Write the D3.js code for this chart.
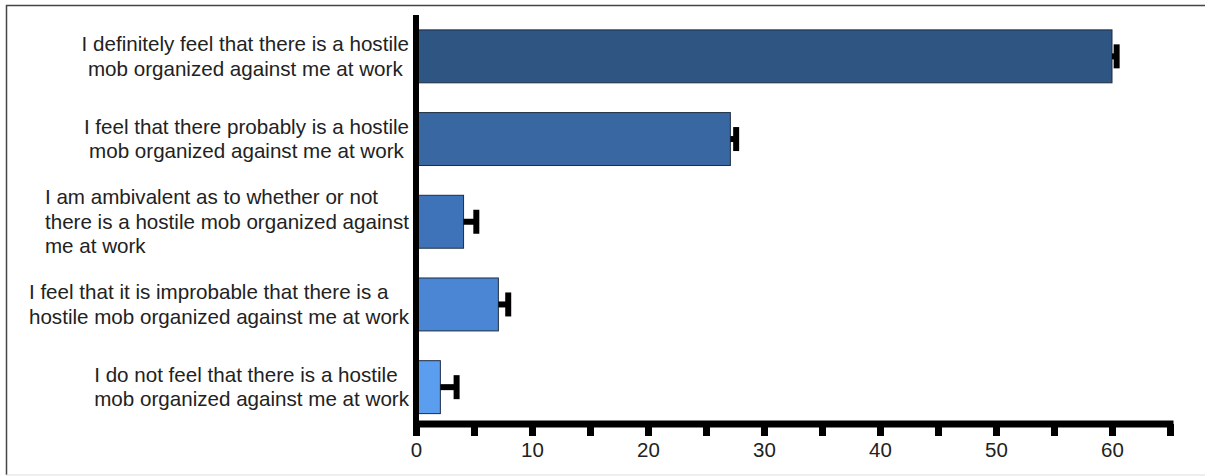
<!DOCTYPE html>
<html lang="en">
<head>
<meta charset="utf-8">
<title>Hostile mob survey</title>
<script src="https://cdn.jsdelivr.net/npm/d3@7"></script>
<style>
  body { margin: 0; background: #fff; }
  text { font-family: "Liberation Sans", Arial, sans-serif; }
</style>
</head>
<body>
<script>
// data
var categories = [
  ["I definitely feel that there is a hostile", "mob organized against me at work"],
  ["I feel that there probably is a hostile", "mob organized against me at work"],
  ["I am ambivalent as to whether or not", "there is a hostile mob organized against", "me at work"],
  ["I feel that it is improbable that there is a", "hostile mob organized against me at work"],
  ["I do not feel that there is a hostile", "mob organized against me at work"]
];
var labelAlign = ["middle", "middle", "start", "start", "start"];
var values = [60, 27.1, 4.1, 7.1, 2.1];
var errors = [0.4, 0.5, 1.1, 0.85, 1.4];
var xTicks = [0, 5, 10, 15, 20, 25, 30, 35, 40, 45, 50, 55, 60, 65];
var colors = ["#2f5582", "#3867a2", "#3e73ba", "#4a86d4", "#5b9def"];

var w = 1205, h = 476;

var svg = d3.select("body").append("svg")
  .attr("width", w)
  .attr("height", h);

// frame
svg.append("line").attr("x1", 6).attr("y1", 5.5).attr("x2", w).attr("y2", 5.5)
  .attr("stroke", "#444").attr("stroke-width", 1.5);
svg.append("line").attr("x1", 6.5).attr("y1", 5).attr("x2", 6.5).attr("y2", 475)
  .attr("stroke", "#444").attr("stroke-width", 1.5);
svg.append("line").attr("x1", 6).attr("y1", 475).attr("x2", w).attr("y2", 475)
  .attr("stroke", "#ddd").attr("stroke-width", 1);

var xScale = d3.scaleLinear()
  .domain([0, 65])
  .range([416, 1170]);

var yScale = d3.scaleBand()
  .domain(d3.range(values.length))
  .range([15, 428.5])
  .paddingInner(0.36)
  .paddingOuter(0.18);

// bars
svg.selectAll("rect.bar")
  .data(values)
  .enter()
  .append("rect")
  .attr("class", "bar")
  .attr("x", xScale(0))
  .attr("y", function(d, i) { return yScale(i); })
  .attr("width", function(d) { return xScale(d) - xScale(0); })
  .attr("height", yScale.bandwidth())
  .attr("fill", function(d, i) { return colors[i]; })
  .attr("stroke", "#1d2d42")
  .attr("stroke-width", 1);

// error bars (one-sided)
var err = svg.selectAll("g.err")
  .data(values)
  .enter()
  .append("g")
  .attr("class", "err");

err.append("line")
  .attr("x1", function(d) { return xScale(d); })
  .attr("x2", function(d, i) { return xScale(d + errors[i]); })
  .attr("y1", function(d, i) { return yScale(i) + yScale.bandwidth() / 2; })
  .attr("y2", function(d, i) { return yScale(i) + yScale.bandwidth() / 2; })
  .attr("stroke", "#000")
  .attr("stroke-width", 6);

err.append("line")
  .attr("x1", function(d, i) { return xScale(d + errors[i]); })
  .attr("x2", function(d, i) { return xScale(d + errors[i]); })
  .attr("y1", function(d, i) { return yScale(i) + yScale.bandwidth() / 2 - 12; })
  .attr("y2", function(d, i) { return yScale(i) + yScale.bandwidth() / 2 + 12; })
  .attr("stroke", "#000")
  .attr("stroke-width", 6);

// x axis
var xAxis = d3.axisBottom(xScale)
  .tickValues(xTicks)
  .tickSizeInner(12)
  .tickSizeOuter(0)
  .tickPadding(6)
  .tickFormat(function(d) { return d % 10 === 0 ? d : ""; });

var gx = svg.append("g")
  .attr("transform", "translate(0,424)")
  .call(xAxis);

gx.select(".domain")
  .attr("stroke", "#000")
  .attr("stroke-width", 7)
  .attr("d", "M" + (xScale(0) - 3) + ",0H" + (xScale(65) + 3.5));
gx.selectAll(".tick line")
  .attr("stroke", "#000")
  .attr("stroke-width", 7);
gx.selectAll(".tick text")
  .attr("font-size", "20.5px")
  .attr("font-family", "Liberation Sans, Arial, sans-serif")
  .attr("fill", "#222");

// y axis line
svg.append("line")
  .attr("x1", xScale(0))
  .attr("x2", xScale(0))
  .attr("y1", 15)
  .attr("y2", 428)
  .attr("stroke", "#000")
  .attr("stroke-width", 6);

// category labels, multi-line
var rightEdge = 409;
var lineH = 24.5;

categories.forEach(function(lines, i) {
  var g = svg.append("g");
  var cy = yScale(i) + yScale.bandwidth() / 2;
  var first = cy - (lines.length - 1) * lineH / 2 + 7;
  var texts = lines.map(function(s, j) {
    return g.append("text")
      .attr("y", first + j * lineH)
      .attr("font-size", "20.6px")
      .attr("fill", "#222")
      .text(s);
  });
  var maxW = d3.max(texts, function(t) { return t.node().getComputedTextLength(); });
  texts.forEach(function(t) {
    if (labelAlign[i] === "middle") {
      t.attr("text-anchor", "middle").attr("x", rightEdge - maxW / 2);
    } else {
      t.attr("text-anchor", "start").attr("x", rightEdge - maxW);
    }
  });
});
</script>
</body>
</html>
